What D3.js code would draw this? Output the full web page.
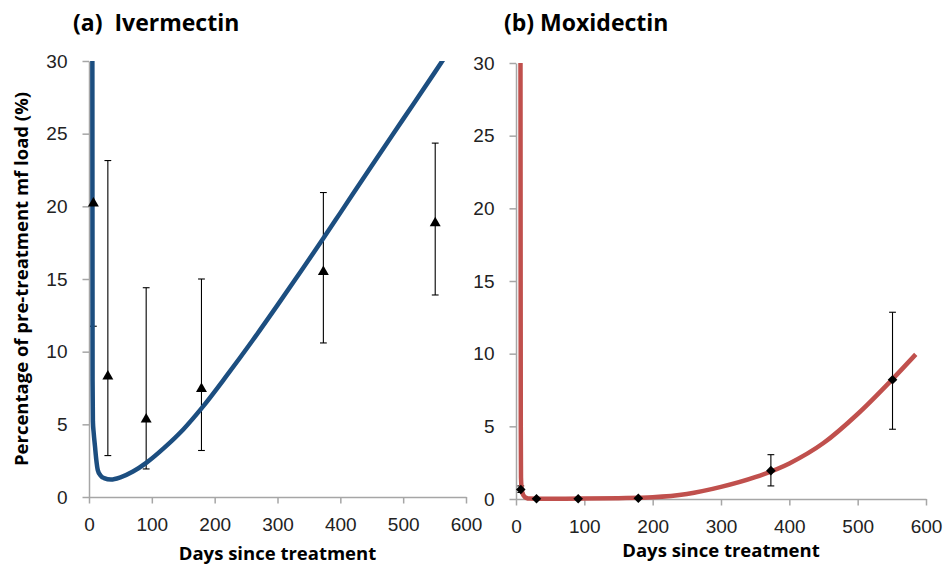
<!DOCTYPE html>
<meta charset="utf-8">
<style>
body { margin: 0; background: #fff; }
svg { display: block; font-family: "Open Sans", sans-serif; }
.axis path, .axis line { stroke: #a6a6a6; stroke-width: 1.5; }
.axis text { font-size: 19px; fill: #222; }
.title { font-size: 23px; font-weight: bold; fill: #000; }
.atitle { font-size: 18.5px; font-weight: bold; fill: #000; }
</style>
<body>
<div id="chart"></div>
<script src="https://cdnjs.cloudflare.com/ajax/libs/d3/7.8.5/d3.min.js"></script>
<script>
// observed points (day, %, lower, upper)
var ivmDays = [7, 30, 91, 179, 373, 551];
var ivmVals = [20.2, 8.3, 5.35, 7.45, 15.5, 18.85];
var ivmLow  = [11.75, 2.85, 1.93, 3.2, 10.6, 13.9];
var ivmHigh = [34, 23.15, 14.4, 15.0, 20.95, 24.35];

var moxDays = [7, 30, 91, 179, 373, 551];
var moxVals = [0.65, 0.02, 0.02, 0.05, 1.95, 8.2];
var moxLow  = [0.45, 0.0, 0.0, 0.0, 0.9, 4.8];
var moxHigh = [0.9, 0.05, 0.05, 0.1, 3.05, 12.85];

// model curves
var ivmCurveX = [5.3, 5.5, 5.7, 6.2, 7.5, 9.5, 11.5, 14, 18, 24, 35, 50, 70, 91, 120, 150, 180, 220, 260, 300, 340, 373, 400, 450, 500, 550, 570];
var ivmCurveY = [34, 20, 8, 5.2, 4.4, 3.5, 2.6, 1.85, 1.5, 1.3, 1.2, 1.35, 1.75, 2.35, 3.4, 4.65, 6.15, 8.4, 10.75, 13.2, 15.7, 17.8, 19.55, 22.8, 26.0, 29.2, 30.5];
var moxCurveX = [6.5, 6.8, 7, 7.3, 8.5, 11, 15, 20, 30, 100, 150, 200, 250, 300, 350, 400, 450, 500, 550, 585];
var moxCurveY = [34, 15, 5, 1.5, 0.6, 0.25, 0.08, 0.03, 0.02, 0.03, 0.06, 0.12, 0.34, 0.83, 1.5, 2.45, 3.85, 5.85, 8.2, 9.95];

var xTicks = [0, 100, 200, 300, 400, 500, 600];
var yTicks = [0, 5, 10, 15, 20, 25, 30];

var W = 944, H = 566;
var svg = d3.select("#chart").append("svg").attr("width", W).attr("height", H);

function panel(opt) {
    var x = d3.scaleLinear().domain([0, 600]).range(opt.xr);
    var y = d3.scaleLinear().domain([0, 30]).range(opt.yr);
    var g = svg.append("g");

    var clipId = "clip" + opt.id;
    svg.append("clipPath").attr("id", clipId).append("rect")
        .attr("x", opt.xr[0]).attr("y", opt.yr[1])
        .attr("width", opt.xr[1] - opt.xr[0] + 10).attr("height", opt.yr[0] - opt.yr[1] + 5);

    g.append("g").attr("class", "axis")
        .attr("transform", "translate(0," + opt.yr[0] + ")")
        .call(d3.axisBottom(x).tickValues(xTicks).tickSize(6.5).tickSizeOuter(0).tickPadding(14.5));
    g.append("g").attr("class", "axis")
        .attr("transform", "translate(" + opt.xr[0] + ",0)")
        .call(d3.axisLeft(y).tickValues(yTicks).tickSize(6.5).tickSizeOuter(0).tickPadding(15));

    // error bars (clipped to the plot area)
    var eb = g.append("g").attr("stroke", "#000").attr("stroke-width", 1.1)
        .attr("clip-path", "url(#" + clipId + ")");
    opt.days.forEach(function (d, i) {
        var cx = x(d), lo = y(opt.low[i]), hi = y(opt.high[i]);
        eb.append("line").attr("x1", cx).attr("x2", cx).attr("y1", lo).attr("y2", hi);
        eb.append("line").attr("x1", cx - 3.4).attr("x2", cx + 3.4).attr("y1", lo).attr("y2", lo);
        eb.append("line").attr("x1", cx - 3.4).attr("x2", cx + 3.4).attr("y1", hi).attr("y2", hi);
    });

    var line = d3.line().x(function (d) { return x(d[0]); }).y(function (d) { return y(d[1]); })
        .curve(d3.curveMonotoneX);
    g.append("path")
        .datum(d3.zip(opt.cx, opt.cy))
        .attr("clip-path", "url(#" + clipId + ")")
        .attr("fill", "none").attr("stroke", opt.color).attr("stroke-width", 4.5)
        .attr("stroke-linejoin", "round").attr("d", line);

    g.selectAll(".pt").data(d3.zip(opt.days, opt.vals)).enter().append("path")
        .attr("transform", function (d) { return "translate(" + x(d[0]) + "," + y(d[1]) + ") rotate(" + opt.rot + ")"; })
        .attr("d", d3.symbol().type(opt.symbol).size(opt.symSize))
        .attr("fill", "#000");

    g.append("text").attr("class", "title").attr("x", opt.titleX).attr("y", 31).text(opt.title);
    g.append("text").attr("class", "atitle").attr("text-anchor", "middle")
        .attr("x", (opt.xr[0] + opt.xr[1]) / 2).attr("y", opt.xtY).text("Days since treatment");
}

panel({
    id: "a", xr: [89, 466], yr: [497, 61], days: ivmDays, vals: ivmVals, low: ivmLow, high: ivmHigh,
    cx: ivmCurveX, cy: ivmCurveY, color: "#1c4e80", symbol: d3.symbolTriangle, symSize: 52, rot: 0,
    title: "(a)\u00a0 Ivermectin", titleX: 73, xtY: 560
});
panel({
    id: "b", xr: [516, 926], yr: [499, 63], days: moxDays, vals: moxVals, low: moxLow, high: moxHigh,
    cx: moxCurveX, cy: moxCurveY, color: "#c0504d", symbol: d3.symbolSquare, symSize: 46, rot: 45,
    title: "(b) Moxidectin", titleX: 504, xtY: 557
});

svg.append("text").attr("class", "atitle").attr("text-anchor", "middle")
    .attr("transform", "translate(28,279) rotate(-90)")
    .text("Percentage of pre-treatment mf load (%)");
</script>
</body>
